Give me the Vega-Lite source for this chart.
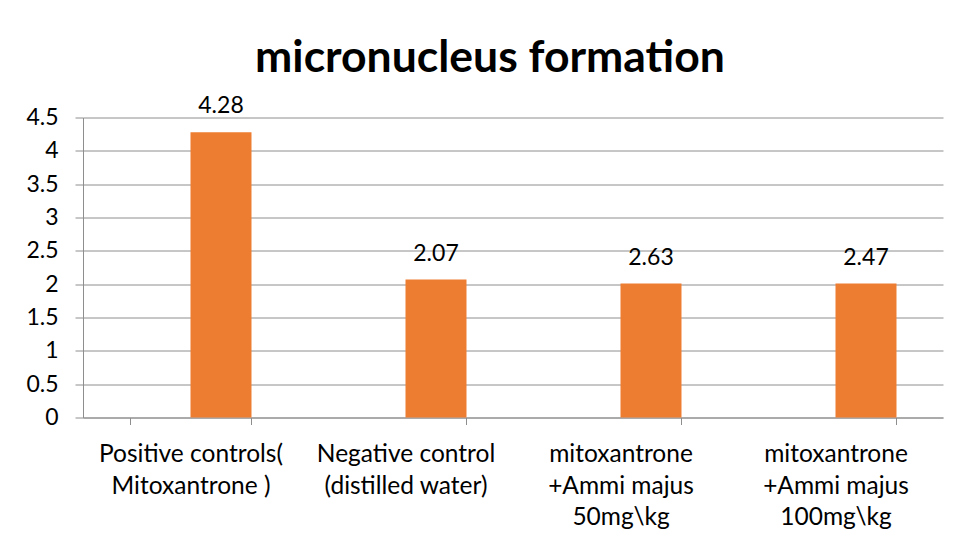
{
  "$schema": "https://vega.github.io/schema/vega-lite/v6.json",
  "autosize": {"type": "none"},
  "width": 860,
  "height": 300,
  "padding": {"left": 83, "top": 117.5, "right": 17, "bottom": 126.5},
  "background": "white",
  "title": {
    "text": "micronucleus formation",
    "font": "Lato",
    "fontSize": 44.5,
    "fontWeight": "bold",
    "color": "#000000",
    "anchor": "middle",
    "frame": "group",
    "baseline": "alphabetic",
    "offset": 45,
    "dy": 66,
    "dx": -23
  },
  "data": {
    "values": [
      {"group": "Positive controls(\nMitoxantrone )", "series": "B", "value": 4.28, "label": "4.28"},
      {"group": "Negative control\n(distilled water)", "series": "B", "value": 2.07, "label": "2.07"},
      {"group": "mitoxantrone\n+Ammi majus\n50mg\\kg", "series": "B", "value": 2.01, "label": "2.63"},
      {"group": "mitoxantrone\n+Ammi majus\n100mg\\kg", "series": "B", "value": 2.01, "label": "2.47"}
    ]
  },
  "encoding": {
    "x": {
      "field": "group",
      "type": "nominal",
      "sort": null,
      "scale": {"paddingInner": 0.4326, "paddingOuter": 0.2163},
      "axis": {
        "title": null,
        "labelAngle": 0,
        "labelExpr": "isValid(datum.value) ? split(datum.value, '\\n') : ''",
        "labelFont": "Lato",
        "labelFontSize": 24.5,
        "labelColor": "#000000",
        "labelLineHeight": 31.7,
        "labelBaseline": "top",
        "labelPadding": 18,
        "labelLimit": 0,
        "tickBand": "extent",
        "tickSize": 7,
        "tickColor": "#8e8e8e",
        "domainColor": "#8e8e8e",
        "domainWidth": 1,
        "grid": false
      }
    },
    "xOffset": {"field": "series", "type": "nominal", "scale": {"domain": ["A", "B"], "paddingInner": 0, "paddingOuter": 0}},
    "y": {
      "field": "value",
      "type": "quantitative",
      "scale": {"domain": [0, 4.5], "nice": false, "zero": true},
      "axis": {
        "title": null,
        "values": [0, 0.5, 1, 1.5, 2, 2.5, 3, 3.5, 4, 4.5],
        "format": "~g",
        "labelFont": "Lato",
        "labelFontSize": 23,
        "labelColor": "#000000",
        "labelPadding": 17,
        "tickSize": 8,
        "tickColor": "#8e8e8e",
        "domainColor": "#8e8e8e",
        "gridColor": "#8e8e8e",
        "gridWidth": 1,
        "grid": true,
        "labelFlush": false
      }
    }
  },
  "layer": [
    {"mark": {"type": "bar", "color": "#ED7D31"}},
    {
      "mark": {"type": "text", "font": "Lato", "fontSize": 23, "color": "#000000", "baseline": "alphabetic", "dy": -19},
      "encoding": {"text": {"field": "label"}}
    }
  ],
  "config": {"view": {"stroke": null}}
}
